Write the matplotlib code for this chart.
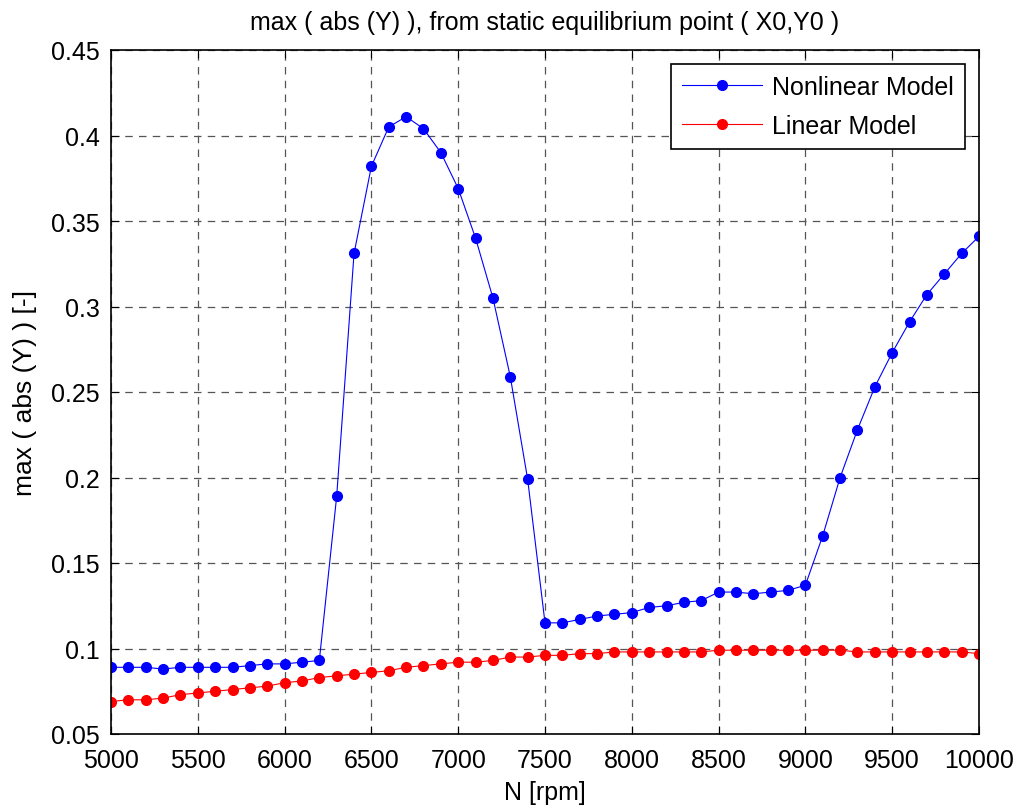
import matplotlib
matplotlib.use("Agg")
import matplotlib.pyplot as plt

plt.rcParams['font.family'] = ['Liberation Sans', 'DejaVu Sans']

# speed [rpm]
N = list(range(5000, 10001, 100))

nonlinear = [0.089, 0.089, 0.089, 0.088, 0.089, 0.089, 0.089, 0.089, 0.090, 0.091,
             0.091, 0.092, 0.093, 0.189, 0.331, 0.382, 0.405, 0.411, 0.404, 0.390,
             0.369, 0.340, 0.305, 0.259, 0.199, 0.115, 0.115, 0.117, 0.119, 0.120,
             0.121, 0.124, 0.125, 0.127, 0.128, 0.133, 0.133, 0.132, 0.133, 0.134,
             0.137, 0.166, 0.200, 0.228, 0.253, 0.273, 0.291, 0.307, 0.319, 0.331,
             0.341]

linear = [0.069, 0.070, 0.070, 0.071, 0.073, 0.074, 0.075, 0.076, 0.077, 0.078,
          0.080, 0.081, 0.083, 0.084, 0.085, 0.086, 0.087, 0.089, 0.090, 0.091,
          0.092, 0.092, 0.093, 0.095, 0.095, 0.096, 0.096, 0.097, 0.097, 0.098,
          0.098, 0.098, 0.098, 0.098, 0.098, 0.099, 0.099, 0.099, 0.099, 0.099,
          0.099, 0.099, 0.099, 0.098, 0.098, 0.098, 0.098, 0.098, 0.098, 0.098,
          0.097]

fig = plt.figure(figsize=(10.2, 8.12), dpi=100)
ax = fig.add_axes([111/1020, 1 - 735/812, (979 - 111)/1020, (735 - 51)/812])

ax.plot(N, nonlinear, '-o', color='blue', lw=0.8, ms=7, label='Nonlinear Model')
ax.plot(N, linear, '-o', color='red', lw=0.8, ms=7, label='Linear Model')

ax.set_xlim(5000, 10000)
ax.set_ylim(0.05, 0.45)
ax.set_xticks(range(5000, 10001, 500))
ax.set_yticks([0.05, 0.1, 0.15, 0.2, 0.25, 0.3, 0.35, 0.4, 0.45])
ax.set_yticklabels(['0.05', '0.1', '0.15', '0.2', '0.25', '0.3', '0.35', '0.4', '0.45'])
ax.tick_params(direction='in', top=True, right=True, labelsize=18, length=6)
ax.tick_params(axis='x', pad=10)
ax.tick_params(axis='y', pad=8)
ax.grid(True, linestyle=(0, (6, 5)), color='#555555', lw=0.9)
for s in ax.spines.values():
    s.set_linewidth(1.2)

ax.set_title('max ( abs (Y) ), from static equilibrium point ( X0,Y0 )', fontsize=18, pad=15)
ax.set_xlabel('N [rpm]', fontsize=18, labelpad=6)
ax.set_ylabel('max ( abs (Y) ) [-]', fontsize=19, labelpad=10)

leg = ax.legend(loc='upper right', fontsize=18, fancybox=False, framealpha=1,
                edgecolor='black', borderaxespad=0.55, handlelength=3.2,
                handletextpad=0.4, borderpad=0.45, labelspacing=0.6)
leg.get_frame().set_linewidth(1.2)

fig.savefig('out.png', dpi=100)
